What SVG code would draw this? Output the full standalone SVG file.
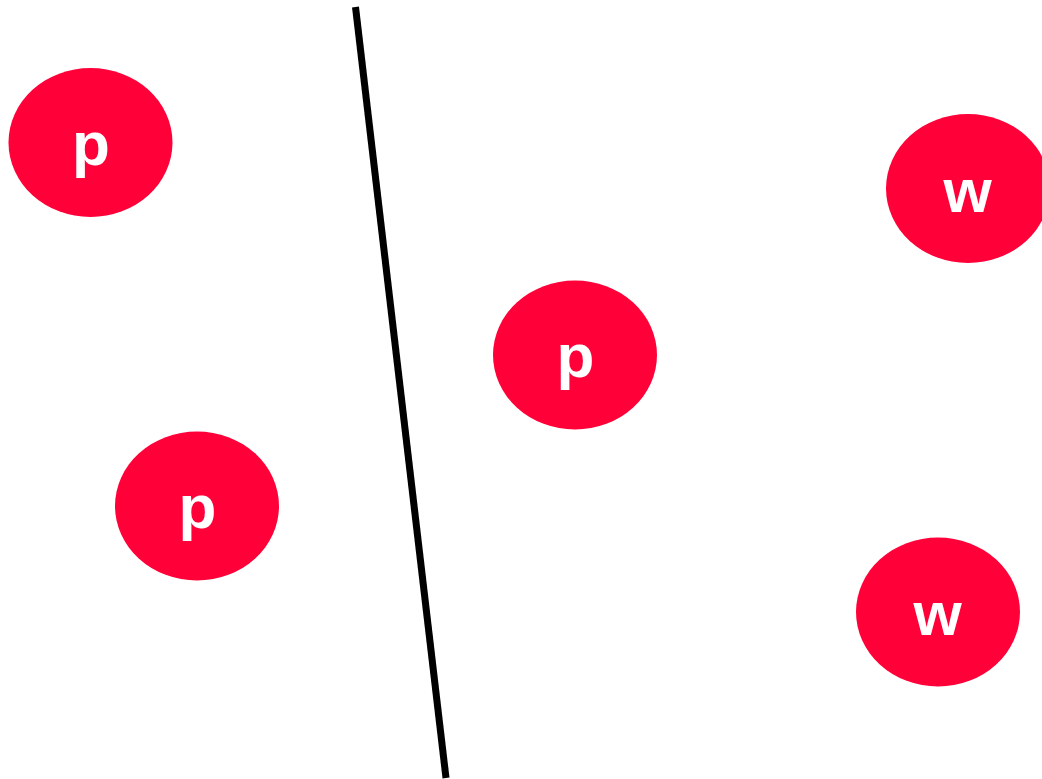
<svg xmlns="http://www.w3.org/2000/svg" width="1042" height="779" viewBox="0 0 1042 779">
  <style>
    .node ellipse { fill: #ff0038; }
    .node text { fill: #ffffff; font-family: "Liberation Sans", Arial, Helvetica, sans-serif; font-weight: 700; font-size: 62px; text-anchor: middle; }
    .divider { stroke: #000000; stroke-width: 7; fill: none; }
  </style>
  <rect width="1042" height="779" fill="#ffffff"/>
  <g id="connectors">
    <line class="divider" x1="355.5" y1="7" x2="446" y2="778"/>
  </g>
  <g id="node-p1" class="node">
    <ellipse cx="90.5" cy="142.5" rx="82" ry="74.5"/>
    <text x="91" y="164.5">p</text>
  </g>
  <g id="node-p2" class="node">
    <ellipse cx="197" cy="506" rx="82" ry="74.5"/>
    <text x="197.5" y="528">p</text>
  </g>
  <g id="node-p3" class="node">
    <ellipse cx="575" cy="355" rx="82" ry="74.5"/>
    <text x="575.5" y="377">p</text>
  </g>
  <g id="node-w1" class="node">
    <ellipse cx="968" cy="188.5" rx="82" ry="74.5"/>
    <text x="967.5" y="211.5">w</text>
  </g>
  <g id="node-w2" class="node">
    <ellipse cx="938" cy="612" rx="82" ry="74.5"/>
    <text x="937.5" y="635">w</text>
  </g>
</svg>
